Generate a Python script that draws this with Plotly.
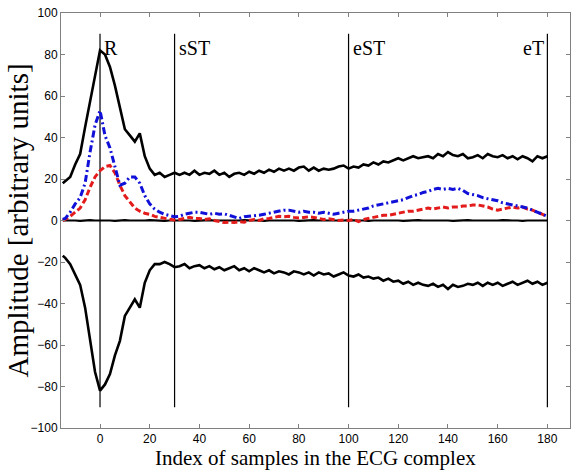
import plotly.graph_objects as go

# sample index (x axis)
x = [-15] + list(range(-14, 181, 2))

upper = [18, 19, 21, 27, 32, 45, 57, 70, 82, 80, 74, 65, 55, 44, 41, 38, 42, 31, 25, 22,
         23, 21, 22, 23, 22, 23, 22, 24, 22, 23, 22.5, 24, 22, 23, 21, 22.5, 23, 22, 23.5, 22.5,
         24, 23, 24.5, 23.5, 25, 24, 25, 24, 25.5, 26, 24, 25.5, 24, 25, 24.5, 25, 26, 26.5, 25, 26,
         25.5, 27, 26.5, 28, 27, 28.5, 28, 29, 30, 29, 30, 31, 30, 30.5, 31, 30, 32, 31, 33, 31.5,
         31, 32, 30, 30.5, 31.5, 30, 32, 31, 30.5, 31.5, 30, 31, 29.5, 31, 30, 28.5, 31, 30, 31]

lower = [-17, -18, -21, -26, -31, -42, -57, -73, -82, -79, -74, -65, -58, -46, -42, -38, -42, -30, -24, -21,
         -21, -20, -21, -22.5, -22, -21, -23, -22, -21.5, -23, -22, -23.5, -22.5, -24, -23, -22, -24, -23, -24.5, -23,
         -24, -25, -24, -25.5, -24.5, -25, -26, -24.5, -25, -26, -25, -26.5, -25, -26, -25.5, -27, -26, -25, -26.5, -27,
         -26, -27.5, -27, -28, -27.5, -29, -28, -29.5, -29, -30.5, -29.5, -31, -30, -31, -31.5, -30.5, -32, -31, -33, -31,
         -32, -31.5, -30.5, -31, -30, -31.5, -30, -31, -30, -31.5, -30.5, -29.5, -31, -30, -29, -30.5, -29.5, -31, -30]

zero = [0, 0, 0.2, 0, -0.2, 0, 0.2, 0, 0, 0.3, 0, -0.2, 0, 0.2, 0, 0, -0.2, 0, 0.2, 0,
        0, -0.2, 0, 0, 0.2, 0, 0, -0.2, 0, 0, 0.2, 0, 0, 0, -0.2, 0, 0, 0.2, 0, 0,
        0, -0.2, 0, 0, 0.2, 0, 0, 0, -0.2, 0, 0, 0.2, 0, 0, 0, -0.2, 0, 0, 0.2, 0,
        0, 0, -0.2, 0, 0, 0.2, 0, 0, 0, -0.2, 0, 0, 0.2, 0, 0, 0, 0.3, 0, 0, -0.2,
        0, 0, 0.2, 0, 0, 0, -0.2, 0, 0, 0.2, 0, 0, 0, -0.2, 0, 0, 0.2, 0, 0]

blue = [0.5, 1, 4, 8, 11, 18, 33, 46, 53, 41, 35, 26, 17, 18, 21, 21, 18, 12, 8, 5.5,
        4, 3, 2.5, 1.8, 2, 3, 3.5, 4, 4, 3.5, 3, 3.5, 3, 3.2, 2.5, 1.5, 1, 1.8, 2, 2.5,
        2.5, 3, 3.5, 4, 4.5, 5, 5, 4.5, 4, 4.5, 4, 4, 3.5, 4, 3.5, 3, 3.5, 4, 4.5, 4.5,
        5, 5.5, 6, 7, 7.5, 8, 8.5, 9, 9.5, 10, 11, 12, 12.5, 13.5, 14, 15, 15.5, 15, 15.5, 15,
        15.5, 14.5, 13, 12.5, 12, 11, 10.5, 10, 9.5, 8.5, 8, 7.5, 7, 6.5, 6, 5, 4, 3, 2]

red = [0, 0.5, 2, 4, 6, 10, 16, 21, 24, 26, 26.5, 23, 17, 12, 9, 6, 4.5, 3.5, 3, 2,
       1.5, 1, 0.5, 0.2, 0.5, 1, 1.5, 1, 1, 0.5, 0.8, 0, -0.5, -1, -0.8, -1, -0.5, -0.8, 0, 0.5,
       0, 0.8, 1, 1.5, 2, 1.8, 2, 1.5, 1.2, 1.5, 1.8, 1.5, 1, 0.5, 0.8, 0.3, 0, 0.2, 0, 0.5,
       -0.5, 0.5, 1, 1.5, 1.8, 2.5, 2.5, 3, 3.5, 4, 4.5, 4.5, 5, 5.5, 6, 5.5, 6, 6.5, 6, 6.5,
       6.5, 7, 7, 7.5, 7.5, 7, 6.5, 5.5, 5, 5.5, 6, 6.5, 6, 6.5, 5.5, 5, 4, 3, 2]

for s in (upper, lower, zero, blue, red):
    assert len(s) == len(x), len(s)

marker_x = [0, 30, 100, 180]
marker_labels = ["R", "sST", "eST", "eT"]
marker_span = [-90, 90]

fig = go.Figure()

for mx in marker_x:
    fig.add_trace(go.Scatter(x=[mx, mx], y=marker_span, mode="lines",
                             line=dict(color="black", width=1.2), showlegend=False, hoverinfo="skip"))

fig.add_trace(go.Scatter(x=x, y=zero, mode="lines", line=dict(color="black", width=2.2), showlegend=False))
fig.add_trace(go.Scatter(x=x, y=upper, mode="lines", line=dict(color="black", width=2.6), showlegend=False))
fig.add_trace(go.Scatter(x=x, y=lower, mode="lines", line=dict(color="black", width=2.6), showlegend=False))
fig.add_trace(go.Scatter(x=x, y=red, mode="lines",
                         line=dict(color="#e31b1b", width=3, dash="6px,3px"), showlegend=False))
fig.add_trace(go.Scatter(x=x, y=blue, mode="lines",
                         line=dict(color="#1010d8", width=3, dash="7px,3px,2px,3px"), showlegend=False))

serif = "Liberation Serif, Times New Roman, serif"
sans = "Liberation Sans, Arial, sans-serif"

for mx, lab in zip(marker_x, marker_labels):
    if lab == "eT":
        fig.add_annotation(x=mx, y=83, text=lab, showarrow=False, xanchor="right", yanchor="middle",
                           xshift=-1, font=dict(family=serif, size=20, color="black"))
    else:
        fig.add_annotation(x=mx, y=83, text=lab, showarrow=False, xanchor="left", yanchor="middle",
                           xshift=2, font=dict(family=serif, size=20, color="black"))

# axis titles
fig.add_annotation(xref="paper", yref="paper", x=0.5, y=0, yshift=-30, xanchor="center", yanchor="middle",
                   text="Index of samples in the ECG complex", showarrow=False,
                   font=dict(family=serif, size=21, color="black"))
fig.add_annotation(xref="paper", yref="paper", x=0, y=0.5, xshift=-44, xanchor="center", yanchor="middle",
                   textangle=-90, text="Amplitude [arbitrary units]", showarrow=False,
                   font=dict(family=serif, size=29, color="black"))

axis_common = dict(showgrid=False, zeroline=False, showline=True, linecolor="#808080", linewidth=1,
                   ticks="inside", ticklen=4, tickcolor="#808080", mirror="ticks", automargin=False,
                   tickfont=dict(family=sans, size=12, color="black"))

fig.update_xaxes(range=[-15.7, 189.1], tickmode="array", tickvals=list(range(0, 181, 20)), **axis_common)
fig.update_yaxes(range=[-100, 100], tickmode="array", tickvals=list(range(-100, 101, 20)), **axis_common)

fig.update_layout(width=571, height=470, margin=dict(l=61, r=1, t=13, b=42),
                  plot_bgcolor="white", paper_bgcolor="white", showlegend=False)

fig.write_html("out.html", config={"displayModeBar": False},
               post_script="document.body.style.margin='0';document.body.style.padding='0';"
                           "document.documentElement.style.overflow='hidden';"
                           "document.body.style.overflow='hidden';")
